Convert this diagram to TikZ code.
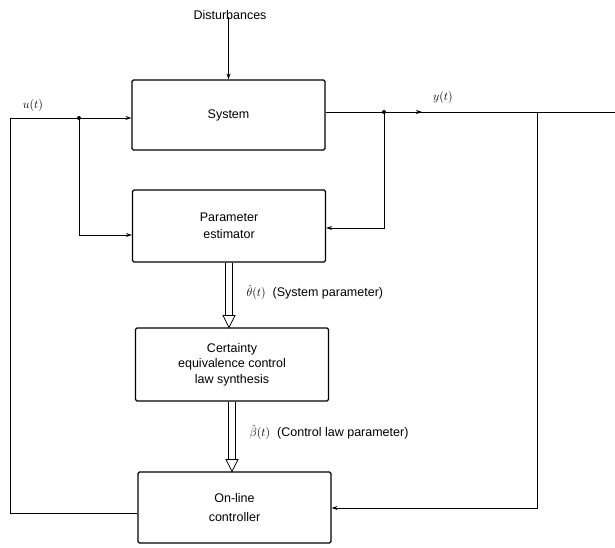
\documentclass[tikz,border=0pt]{standalone}
\usepackage{fontspec}
\setmainfont{Liberation Sans}
\usetikzlibrary{arrows.meta}
\begin{document}
\begin{tikzpicture}[x=1pt,y=-1pt,
  font=\fontsize{12.5}{14.5}\selectfont,
  blk/.style={draw, line width=1.1pt, rounded corners=1.5pt, minimum width=193pt, align=center, inner sep=0pt},
  wire/.style={line width=0.8pt},
  arr/.style={wire, -{Stealth[length=6pt,width=4pt]}},
  dot/.style={circle, fill, inner sep=0pt, minimum size=4pt},
  dbl/.style={double, double distance=6pt, line width=0.8pt, shorten >=11pt},
  tri/.style={line width=0.8pt, fill=white}
]
\useasboundingbox (0,0) rectangle (615,548);

% blocks
\node[blk, minimum height=70pt] (sys) at (228.5,115) {System};
\node[blk, minimum height=72pt] (pe) at (229,226) {Parameter\\[3pt]estimator};
\node[blk, minimum height=73pt] (ce) at (232,364.5) {Certainty\\[1pt]equivalence control\\[1pt]law synthesis};
\node[blk, minimum height=71pt] (oc) at (234.5,507.5) {On-line\\[4pt]controller};

% disturbances
\node (dist) at (230,15) {Disturbances};
\draw[arr] (dist.south -| sys.north) ++(0,6pt) coordinate (dtop) -- (sys.north);

% input u(t)
\coordinate (jl) at (79,118);
\coordinate (lc) at (10,118);
\coordinate (lb) at (10,513);
\node[dot] (dl) at (jl) {};
\node (ulab) at (33,106) {$u(t)$};
\draw[wire] (oc.west |- lb) -- (lb) -- (lc) -- (jl);
\draw[arr] (jl) -- (sys.west |- jl);
\coordinate (jlb) at (79,235);
\draw[arr] (jl) -- (jlb) -- (pe.west |- jlb);

% output y(t)
\coordinate (jr) at (384,112);
\coordinate (jr2) at (537,112);
\coordinate (oend) at (615,112);
\node[dot] (dr) at (jr) {};
\node (ylab) at (443,98) {$y(t)$};
\draw[wire] (sys.east |- jr) -- (jr);
\draw[wire] (jr) -- (oend);
\draw[arr] (jr) -- (422,112);
\coordinate (jrb) at (384,228);
\draw[arr] (jr) -- (jrb) -- (pe.east |- jrb);
\coordinate (jr2b) at (537,508);
\draw[arr] (jr2) -- (jr2b) -- (oc.east |- jr2b);

% double arrows
\coordinate (t1) at (pe.south |- ce.north);
\draw[dbl] (pe.south) -- (t1);
\draw[tri] (t1) -- ++(-6pt,12pt) -- ++(12pt,0) -- cycle;
\node[anchor=west] (thl) at (243,292) {$\hat{\theta}(t)$\ \ (System parameter)};

\coordinate (t2) at (ce.south |- oc.north);
\draw[dbl] (ce.south) -- (t2);
\draw[tri] (t2) -- ++(-6pt,12pt) -- ++(12pt,0) -- cycle;
\node[anchor=west] (bel) at (246,432) {$\hat{\beta}(t)$\ \ (Control law parameter)};
\end{tikzpicture}
\end{document}
